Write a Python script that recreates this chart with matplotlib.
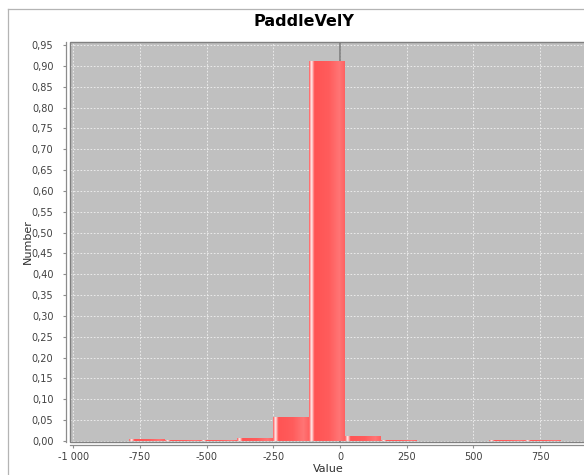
import numpy as np
import matplotlib
matplotlib.use("Agg")
import matplotlib.pyplot as plt
from matplotlib.ticker import FuncFormatter, FixedLocator
from matplotlib.colors import LinearSegmentedColormap
from matplotlib.lines import Line2D
from matplotlib.patches import Rectangle

# ---- data ----
title = "PaddleVelY"
x_label = "Value"
y_label = "Number"
bin_edges = [-790, -655, -520, -385, -250, -115, 20, 155, 290, 425, 560, 695, 830]
frequencies = [0.004, 0.002, 0.003, 0.006, 0.058, 0.912, 0.012, 0.002, 0.0, 0.0, 0.002, 0.002]
x_ticks = [-1000, -750, -500, -250, 0, 250, 500, 750]
y_ticks = [round(0.05 * i, 2) for i in range(20)]

W, H = 584, 475
fig = plt.figure(figsize=(W / 100, H / 100), dpi=100)
fig.patch.set_facecolor("white")

# outer chart frame (partially visible)
fig.add_artist(Line2D([8 / W, 8 / W], [0, 1 - 9 / H], transform=fig.transFigure,
                      color="#b4b4b4", lw=0.9))
fig.add_artist(Line2D([8 / W, 1], [1 - 9 / H, 1 - 9 / H], transform=fig.transFigure,
                      color="#b4b4b4", lw=0.9))

left_px, right_px, top_px, bot_px = 69.5, 586.0, 41.5, 441.5
ax = fig.add_axes([left_px / W, 1 - bot_px / H, (right_px - left_px) / W, (bot_px - top_px) / H])
ax.set_facecolor("#c0c0c0")

lefts = bin_edges[:-1]
widths = np.diff(bin_edges)
bars = ax.bar(lefts, frequencies, width=widths, align="edge", color="#ff5555",
              edgecolor="none", zorder=3)

# gradient shading like JFreeChart GradientXYBarPainter
c0 = (1.0, 0.33, 0.33)
cmap = LinearSegmentedColormap.from_list("bar", [
    (0.0, c0), (0.07, (1.0, 0.95, 0.95)), (0.15, c0), (0.55, (1.0, 0.36, 0.36)),
    (0.85, (1.0, 0.46, 0.46)), (1.0, (1.0, 0.38, 0.38))])
grad = np.linspace(0, 1, 256).reshape(1, -1)
for b in bars:
    if b.get_height() <= 0:
        continue
    x0, y0 = b.get_x(), b.get_y()
    im = ax.imshow(grad, cmap=cmap, aspect="auto", interpolation="bilinear",
                   extent=[x0, x0 + b.get_width(), y0, y0 + b.get_height()], zorder=4)
    im.set_clip_path(b)

ax.axvline(0, color="#7a7a7a", lw=1.1, zorder=2)

ax.set_xlim(-1014.4, 922.5)
ax.set_ylim(-0.0012, 0.9585)

ax.xaxis.set_major_locator(FixedLocator(x_ticks))
ax.yaxis.set_major_locator(FixedLocator(y_ticks))
ax.xaxis.set_major_formatter(FuncFormatter(lambda v, p: "{:,.0f}".format(v).replace(",", " ")))
ax.yaxis.set_major_formatter(FuncFormatter(lambda v, p: "{:.2f}".format(v).replace(".", ",")))

ax.grid(True, color="#f2f2f2", lw=0.6, linestyle=(0, (2, 2)), zorder=1)
ax.set_axisbelow(True)

for s in ["top", "right"]:
    ax.spines[s].set_visible(False)
for s in ["left", "bottom"]:
    ax.spines[s].set_position(("outward", 2.6))
    ax.spines[s].set_color("#8c8c8c")
    ax.spines[s].set_linewidth(0.9)

ax.add_patch(Rectangle((0, 0), 1, 1, transform=ax.transAxes, fill=False,
                       edgecolor="#808080", lw=1.0, zorder=6, clip_on=False))

ax.tick_params(axis="both", labelsize=7, colors="#8c8c8c", labelcolor="#404040",
               length=2, width=0.8)
ax.tick_params(axis="y", pad=7)
ax.tick_params(axis="x", pad=3)

fig.text(28 / W, 1 - 241.5 / H, y_label, rotation=90, ha="center", va="center",
         fontsize=8, color="#303030")
fig.text(328 / W, 1 - 469 / H, x_label, ha="center", va="center",
         fontsize=8, color="#303030")
fig.text(304 / W, 1 - 22 / H, title, ha="center", va="center",
         fontsize=11.5, fontweight="bold", color="black")

fig.savefig("out.png", dpi=100)
